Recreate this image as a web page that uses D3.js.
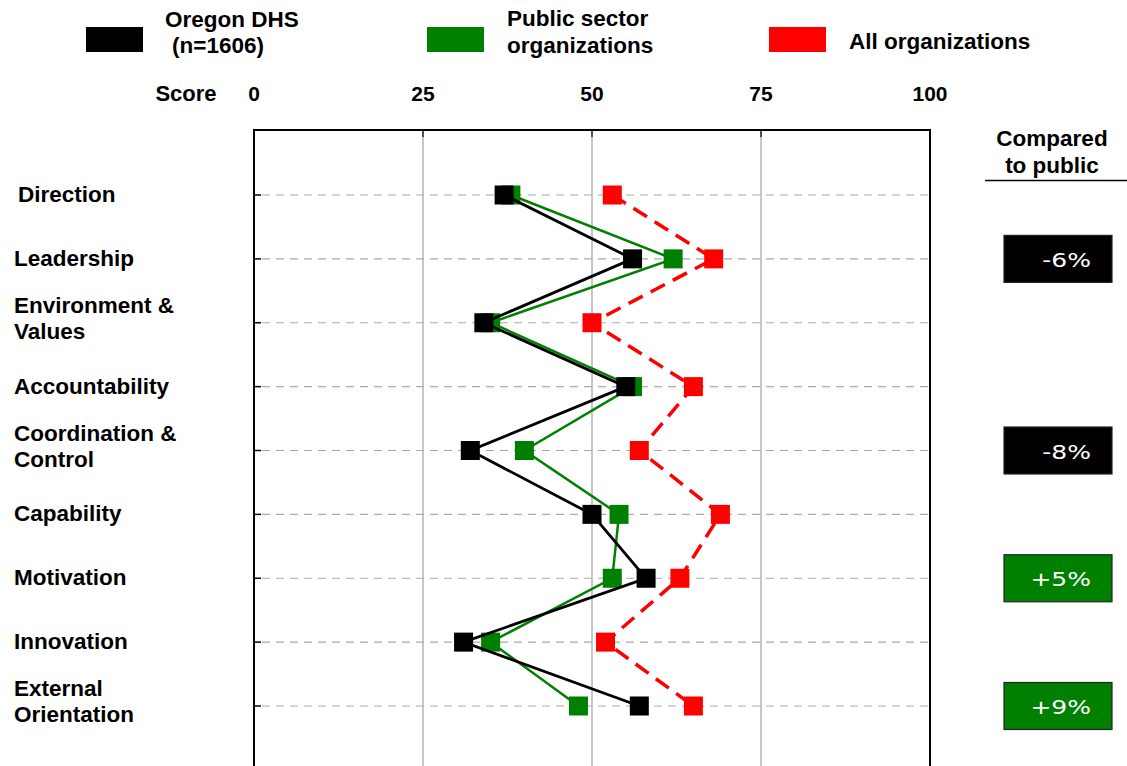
<!DOCTYPE html>
<html>
<head>
<meta charset="utf-8">
<script src="https://cdn.jsdelivr.net/npm/d3@7"></script>
<style>
  html, body { margin: 0; padding: 0; background: #fff; }
  svg { display: block; font-family: "Liberation Sans", Arial, sans-serif; }
</style>
</head>
<body>
<svg id="chart" width="1127" height="766"></svg>
<script>
// Organisational health scores by dimension
const categories = [
  "Direction", "Leadership", "Environment & Values", "Accountability",
  "Coordination & Control", "Capability", "Motivation", "Innovation",
  "External Orientation"
];
const categoryLines = [
  ["Direction"], ["Leadership"], ["Environment &", "Values"], ["Accountability"],
  ["Coordination &", "Control"], ["Capability"], ["Motivation"], ["Innovation"],
  ["External", "Orientation"]
];
const oregonDHS = [37, 56, 34, 55, 32, 50, 58, 31, 57];
const publicSector = [38, 62, 35, 56, 40, 54, 53, 35, 48];
const allOrgs = [53, 68, 50, 65, 57, 69, 63, 52, 65];
const scoreTicks = [0, 25, 50, 75, 100];

const svg = d3.select("#chart");

const x = d3.scaleLinear().domain([0, 100]).range([254, 930]);
const y = d3.scalePoint().domain(categories).range([195, 706]).padding(0);

const plotTop = 130, plotBottom = 800;

// Vertical grid lines
svg.append("g").selectAll("line")
  .data(scoreTicks.filter(t => t > 0 && t < 100))
  .join("line")
  .attr("x1", d => x(d)).attr("x2", d => x(d))
  .attr("y1", plotTop).attr("y2", plotBottom)
  .attr("stroke", "#a0a0a0").attr("stroke-width", 1.2);

// Small black ticks at top of grid lines
svg.append("g").selectAll("line")
  .data(scoreTicks.filter(t => t > 0 && t < 100))
  .join("line")
  .attr("x1", d => x(d)).attr("x2", d => x(d))
  .attr("y1", plotTop).attr("y2", plotTop + 7)
  .attr("stroke", "#000").attr("stroke-width", 1.2);

// Horizontal dashed row guides
svg.append("g").selectAll("line")
  .data(categories)
  .join("line")
  .attr("x1", x(0) + 8).attr("x2", x(100))
  .attr("y1", d => y(d)).attr("y2", d => y(d))
  .attr("stroke", "#aaaaaa").attr("stroke-width", 1.2)
  .attr("stroke-dasharray", "8,6");

// Row ticks on the left border
svg.append("g").selectAll("line")
  .data(categories)
  .join("line")
  .attr("x1", x(0)).attr("x2", x(0) + 7)
  .attr("y1", d => y(d)).attr("y2", d => y(d))
  .attr("stroke", "#000").attr("stroke-width", 1.5);

// Plot frame (left, top, right)
svg.append("path")
  .attr("d", `M${x(0)},${plotBottom}V${plotTop}H${x(100)}V${plotBottom}`)
  .attr("fill", "none").attr("stroke", "#000").attr("stroke-width", 2);

// Top axis labels
const axisG = svg.append("g").attr("font-weight", "bold").attr("font-size", 21).attr("fill", "#000");
axisG.selectAll("text.tick")
  .data(scoreTicks)
  .join("text")
  .attr("class", "tick")
  .attr("x", d => x(d)).attr("y", 101)
  .attr("text-anchor", "middle")
  .text(d => d);
axisG.append("text").attr("x", 186).attr("y", 101).attr("text-anchor", "middle")
  .attr("font-size", 22).text("Score");

// Category labels
const catG = svg.append("g").attr("font-weight", "bold").attr("font-size", 22.5).attr("fill", "#000");
categories.forEach((c, i) => {
  const lines = categoryLines[i];
  const t = catG.append("text").attr("x", i === 0 ? 18 : 14);
  if (lines.length === 1) {
    t.attr("y", y(c) + 7).text(lines[0]);
  } else {
    lines.forEach((ln, j) => {
      t.append("tspan").attr("x", 14).attr("y", y(c) - 10 + j * 26).text(ln);
    });
  }
});

// Series
const series = [
  { name: "public", values: publicSector, color: "#008000", width: 2.5, dash: null },
  { name: "oregon", values: oregonDHS, color: "#000000", width: 2.8, dash: null },
  { name: "all", values: allOrgs, color: "#ff0000", width: 3.5, dash: "16,9" }
];

const line = d3.line()
  .x(d => x(d.v))
  .y(d => y(d.c));

const mk = 19;
// All organizations first, then public sector, then Oregon DHS on top
const drawOrder = [series[2], series[0], series[1]];
drawOrder.forEach(s => {
  const pts = s.values.map((v, i) => ({ v, c: categories[i] }));
  svg.append("path")
    .datum(pts)
    .attr("d", line)
    .attr("fill", "none")
    .attr("stroke", s.color)
    .attr("stroke-width", s.width)
    .attr("stroke-dasharray", s.dash);
  svg.append("g").selectAll("rect")
    .data(pts)
    .join("rect")
    .attr("x", d => x(d.v) - mk / 2)
    .attr("y", d => y(d.c) - mk / 2)
    .attr("width", mk).attr("height", mk)
    .attr("fill", s.color);
});

// Legend
const legend = [
  { color: "#000000", x: 86, lines: ["Oregon DHS", "(n=1606)"], tx: [165, 172], ty: [27, 53] },
  { color: "#008000", x: 427, lines: ["Public sector", "organizations"], tx: [507, 507], ty: [26, 53] },
  { color: "#ff0000", x: 769, lines: ["All organizations"], tx: [849], ty: [49] }
];
const legG = svg.append("g").attr("font-weight", "bold").attr("font-size", 22.5).attr("fill", "#000");
legend.forEach(l => {
  legG.append("rect").attr("x", l.x).attr("y", 27).attr("width", 57).attr("height", 25).attr("fill", l.color);
  l.lines.forEach((ln, j) => {
    legG.append("text").attr("x", l.tx[j]).attr("y", l.ty[j]).text(ln);
  });
});

// Comparison panel: Oregon DHS vs public sector, shown where the gap is 5 points or more
const cmpG = svg.append("g");
cmpG.append("text").attr("x", 1052).attr("y", 146).attr("text-anchor", "middle")
  .attr("font-weight", "bold").attr("font-size", 22.5).text("Compared");
cmpG.append("text").attr("x", 1052).attr("y", 173).attr("text-anchor", "middle")
  .attr("font-weight", "bold").attr("font-size", 22.5).text("to public");
cmpG.append("line").attr("x1", 985).attr("x2", 1127).attr("y1", 180.5).attr("y2", 180.5)
  .attr("stroke", "#000").attr("stroke-width", 1.5);

const diffs = categories.map((c, i) => ({ c, d: oregonDHS[i] - publicSector[i] }))
  .filter(e => Math.abs(e.d) >= 5);
const boxW = 108, boxH = 47;
const boxes = cmpG.selectAll("g.box").data(diffs).join("g").attr("class", "box")
  .attr("transform", d => `translate(1004,${y(d.c) - boxH / 2})`);
boxes.append("rect")
  .attr("width", boxW).attr("height", boxH)
  .attr("fill", d => d.d < 0 ? "#000" : "#008000")
  .attr("stroke", "#222").attr("stroke-width", 1.2);
boxes.append("text")
  .attr("transform", `translate(87,${boxH / 2 + 8}) scale(1.25,1)`)
  .attr("text-anchor", "end")
  .attr("fill", "#fff")
  .attr("font-family", "'DejaVu Sans', sans-serif")
  .attr("font-size", 20)
  .text(d => (d.d > 0 ? "+" : "") + d.d + "%");
</script>
</body>
</html>
